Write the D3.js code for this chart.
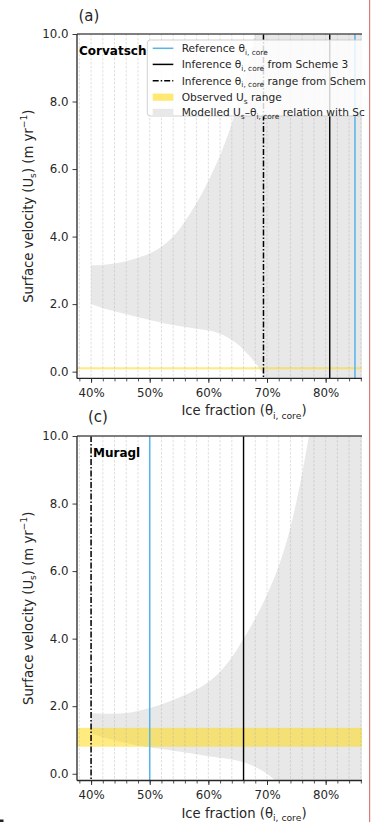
<!DOCTYPE html>
<html>
<head>
<meta charset="utf-8">
<script src="https://cdn.jsdelivr.net/npm/d3@7/dist/d3.min.js"></script>
<style>
  html, body { margin: 0; padding: 0; background: #fff; }
  svg { display: block; font-family: "DejaVu Sans", sans-serif; }
</style>
</head>
<body>
<svg id="fig" width="374" height="822"></svg>
<script>
// ---- data -------------------------------------------------------------
const xMajorTicks = [40, 50, 60, 70, 80];
const xMinorTicks = [38, 40, 42, 44, 46, 48, 50, 52, 54, 56, 58, 60, 62, 64, 66, 68, 70, 72, 74, 76, 78, 80, 82, 84, 86];
const yTicks = [0, 2, 4, 6, 8, 10];

// Corvatsch: modelled Us envelope vs. ice fraction (%)
const corvatschTheta = [40, 42, 44, 46, 48, 50, 52, 54, 56, 58, 60, 61, 62, 63, 64, 65, 66, 67, 68, 69, 70, 72, 76, 82, 90];
const corvatschUpper = [3.15, 3.16, 3.2, 3.27, 3.37, 3.5, 3.7, 4.0, 4.45, 5.0, 5.65, 6.02, 6.4, 6.85, 7.35, 7.92, 8.55, 9.27, 10.05, 10.9, 11.85, 14, 19, 26, 35];
const corvatschLower = [2.0, 1.88, 1.79, 1.7, 1.61, 1.53, 1.45, 1.38, 1.32, 1.27, 1.22, 1.18, 1.12, 1.04, 0.94, 0.81, 0.65, 0.47, 0.26, 0.02, -0.25, -0.9, -2, -3, -4];
const corvatschObserved = [0.07, 0.13];
const corvatschReference = 85.0;
const corvatschScheme3 = 80.7;
const corvatschRange = [69.4];

// Muragl
const muraglTheta = [40, 42, 44, 46, 48, 50, 52, 54, 56, 58, 60, 62, 64, 66, 68, 70, 72, 74, 76, 78, 80, 84, 90];
const muraglUpper = [1.8, 1.78, 1.78, 1.8, 1.86, 1.95, 2.05, 2.18, 2.33, 2.5, 2.72, 3.02, 3.45, 4.0, 4.6, 5.3, 6.15, 7.3, 8.9, 10.9, 13.2, 18.5, 26];
const muraglLower = [1.2, 1.08, 0.99, 0.91, 0.84, 0.78, 0.73, 0.68, 0.63, 0.58, 0.52, 0.47, 0.42, 0.34, 0.2, 0.0, -0.3, -0.7, -1.2, -1.8, -2.4, -3.5, -5];
const muraglObserved = [0.8, 1.36];
const muraglReference = 50.0;
const muraglScheme3 = 66.0;
const muraglRange = [40.0];

const legendEntries = [
  { kind: "ref",   parts: [["Reference θ", "n"], ["i, core", "sub"]] },
  { kind: "inf",   parts: [["Inference θ", "n"], ["i, core", "sub"], [" from Scheme 3", "n"]] },
  { kind: "range", parts: [["Inference θ", "n"], ["i, core", "sub"], [" range from Schem", "n"]] },
  { kind: "obs",   parts: [["Observed U", "n"], ["s", "sub"], [" range", "n"]] },
  { kind: "model", parts: [["Modelled U", "n"], ["s", "sub"], ["–θ", "n"], ["i, core", "sub"], [" relation with Sc", "n"]] }
];

// ---- styles -----------------------------------------------------------
const C = {
  ref: "#56b4e9",
  black: "#000",
  band: "#e8e8e8",
  obs: "#ffd700",
  spine: "#262626",
  text: "#262626",
  grid: "#b0b0b0"
};
const DASHDOT = "6,2,1.5,2";

const svg = d3.select("#fig");
svg.append("rect").attr("width", 374).attr("height", 822).attr("fill", "#fff");

// figure content stops at x=362
svg.append("clipPath").attr("id", "figclip")
  .append("rect").attr("x", 0).attr("y", 0).attr("width", 362).attr("height", 822);
const fig = svg.append("g").attr("clip-path", "url(#figclip)");

// rich text helper: normal / subscript / superscript runs
function rich(sel, parts, fs) {
  let off = 0;
  parts.forEach(([t, k]) => {
    const target = k === "sub" ? 0.28 * fs : k === "sup" ? -0.38 * fs : 0;
    const ts = sel.append("tspan").text(t).attr("dy", target - off);
    if (k !== "n") ts.attr("font-size", fs * 0.7);
    off = target;
  });
}

const X0 = 77, X1 = 362;
const TICK_FS = 11.8, LABEL_FS = 13.2;

function panel(cfg) {
  const x = d3.scaleLinear().domain([37.6, 86.2]).range([X0, X1]);
  const y = d3.scaleLinear().domain([-0.2, 10]).range([cfg.bottom, cfg.top]);
  const g = fig.append("g");
  const id = "clip-" + cfg.id;
  svg.append("clipPath").attr("id", id)
    .append("rect").attr("x", X0).attr("y", cfg.top).attr("width", X1 - X0).attr("height", cfg.bottom - cfg.top);
  const plot = g.append("g").attr("clip-path", `url(#${id})`);

  // modelled envelope
  const area = d3.area()
    .x((d, i) => x(cfg.theta[i]))
    .y0((d, i) => y(cfg.lower[i]))
    .y1((d, i) => y(cfg.upper[i]))
    .curve(d3.curveMonotoneX);
  plot.append("path").datum(cfg.theta).attr("d", area).attr("fill", C.band);

  // observed range
  plot.append("rect")
    .attr("x", X0).attr("width", X1 - X0)
    .attr("y", y(cfg.observed[1]))
    .attr("height", y(cfg.observed[0]) - y(cfg.observed[1]))
    .attr("fill", C.obs).attr("fill-opacity", 0.5);

  // vertical grid
  plot.selectAll("line.grid").data(xMinorTicks).join("line")
    .attr("class", "grid")
    .attr("x1", d => x(d)).attr("x2", d => x(d))
    .attr("y1", cfg.top).attr("y2", cfg.bottom)
    .attr("stroke", C.grid).attr("stroke-opacity", 0.5)
    .attr("stroke-width", 0.8).attr("stroke-dasharray", "2.5,1.5");

  // vertical reference lines
  cfg.range.forEach(v => {
    plot.append("line").attr("x1", x(v)).attr("x2", x(v))
      .attr("y1", cfg.top).attr("y2", cfg.bottom)
      .attr("stroke", C.black).attr("stroke-width", 1.5).attr("stroke-dasharray", DASHDOT);
  });
  plot.append("line").attr("x1", x(cfg.scheme3)).attr("x2", x(cfg.scheme3))
    .attr("y1", cfg.top).attr("y2", cfg.bottom)
    .attr("stroke", C.black).attr("stroke-width", 1.4);
  plot.append("line").attr("x1", x(cfg.reference)).attr("x2", x(cfg.reference))
    .attr("y1", cfg.top).attr("y2", cfg.bottom)
    .attr("stroke", C.ref).attr("stroke-width", 1.5);

  // x axis
  const xa = g.append("g").attr("transform", `translate(0,${cfg.bottom})`)
    .call(d3.axisBottom(x).tickValues(xMinorTicks).tickSize(3).tickFormat(""));
  xa.select(".domain").remove();
  xa.selectAll("line").attr("stroke", C.spine).attr("stroke-width", 0.8);
  const xb = g.append("g").attr("transform", `translate(0,${cfg.bottom})`)
    .call(d3.axisBottom(x).tickValues(xMajorTicks).tickSize(4.5).tickPadding(4)
      .tickFormat(d => d + "%"));
  xb.select(".domain").remove();
  xb.selectAll("line").attr("stroke", C.spine).attr("stroke-width", 0.9);
  xb.selectAll("text").attr("font-size", TICK_FS).attr("fill", C.text)
    .attr("font-family", "DejaVu Sans").attr("dy", "0.85em");

  // y axis
  const ya = g.append("g").attr("transform", `translate(${X0},0)`)
    .call(d3.axisLeft(y).tickValues(yTicks).tickSize(4.5).tickPadding(4)
      .tickFormat(d3.format(".1f")));
  ya.select(".domain").remove();
  ya.selectAll("line").attr("stroke", C.spine).attr("stroke-width", 0.9);
  ya.selectAll("text").attr("font-size", TICK_FS).attr("fill", C.text)
    .attr("font-family", "DejaVu Sans");

  // spines
  g.append("line").attr("x1", X0).attr("x2", X1).attr("y1", cfg.top).attr("y2", cfg.top)
    .attr("stroke", "#555").attr("stroke-width", 1.3);
  g.append("line").attr("x1", X0).attr("x2", X1).attr("y1", cfg.bottom).attr("y2", cfg.bottom)
    .attr("stroke", C.spine).attr("stroke-width", 1.3);
  g.append("line").attr("x1", X0).attr("x2", X0).attr("y1", cfg.top).attr("y2", cfg.bottom)
    .attr("stroke", C.spine).attr("stroke-width", 1.3);

  // axis labels
  const xl = g.append("text").attr("x", 244).attr("y", cfg.bottom + 37)
    .attr("text-anchor", "middle").attr("font-size", LABEL_FS).attr("fill", C.text);
  rich(xl, [["Ice fraction (θ", "n"], ["i, core", "sub"], [")", "n"]], LABEL_FS);

  const yl = g.append("text")
    .attr("transform", `translate(32.5,${(cfg.top + cfg.bottom) / 2}) rotate(-90)`)
    .attr("text-anchor", "middle").attr("font-size", LABEL_FS).attr("fill", C.text);
  rich(yl, [["Surface velocity (U", "n"], ["s", "sub"], [") (m yr", "n"], ["−1", "sup"], [")", "n"]], LABEL_FS);

  // panel letter and site name
  g.append("text").attr("x", cfg.letterX).attr("y", cfg.letterY)
    .attr("font-size", 15).attr("fill", C.text).text(cfg.letter);
  g.append("text").attr("x", cfg.nameX).attr("y", cfg.nameY)
    .attr("font-size", 12).attr("font-weight", "bold").attr("fill", "#000").text(cfg.name);

  return { g, x, y };
}

const panelA = panel({
  id: "a", top: 34, bottom: 378.4,
  theta: corvatschTheta, upper: corvatschUpper, lower: corvatschLower,
  observed: corvatschObserved, reference: corvatschReference,
  scheme3: corvatschScheme3, range: corvatschRange,
  letter: "(a)", letterX: 78.5, letterY: 20.5,
  name: "Corvatsch", nameX: 79, nameY: 54.5
});

panel({
  id: "c", top: 436, bottom: 780.5,
  theta: muraglTheta, upper: muraglUpper, lower: muraglLower,
  observed: muraglObserved, reference: muraglReference,
  scheme3: muraglScheme3, range: muraglRange,
  letter: "(c)", letterX: 88, letterY: 422,
  name: "Muragl", nameX: 93, nameY: 457
});

// legend (upper panel): frame is cut at the figure edge, labels sit on top
const LEG_FS = 10.6;
panelA.g.append("rect").attr("x", 147.3).attr("y", 40).attr("width", 260).attr("height", 76)
  .attr("rx", 3).attr("fill", "#fff").attr("fill-opacity", 0.82)
  .attr("stroke", "#cccccc").attr("stroke-width", 0.9);
const lg = svg.append("g");
const rowY = [48.3, 64.4, 80.7, 97.2, 112.4];
legendEntries.forEach((e, i) => {
  const cy = rowY[i];
  if (e.kind === "ref" || e.kind === "inf" || e.kind === "range") {
    const ln = lg.append("line").attr("x1", 152.7).attr("x2", 173.3).attr("y1", cy).attr("y2", cy)
      .attr("stroke", e.kind === "ref" ? C.ref : C.black).attr("stroke-width", 1.5);
    if (e.kind === "range") ln.attr("stroke-dasharray", DASHDOT);
  } else {
    lg.append("rect").attr("x", 152.7).attr("y", cy - 3.6).attr("width", 20.6).attr("height", 7.2)
      .attr("fill", e.kind === "obs" ? C.obs : C.band)
      .attr("fill-opacity", e.kind === "obs" ? 0.55 : 1);
  }
  const t = lg.append("text").attr("x", 181.7).attr("y", cy + 3.8)
    .attr("font-size", LEG_FS).attr("fill", C.text);
  rich(t, e.parts, LEG_FS);
});

// page edge marks
svg.append("rect").attr("x", 369).attr("y", 0).attr("width", 1.2).attr("height", 822).attr("fill", "#e07a7a");
svg.append("rect").attr("x", 0).attr("y", 819.5).attr("width", 3.5).attr("height", 2.5).attr("fill", "#222");
</script>
</body>
</html>
